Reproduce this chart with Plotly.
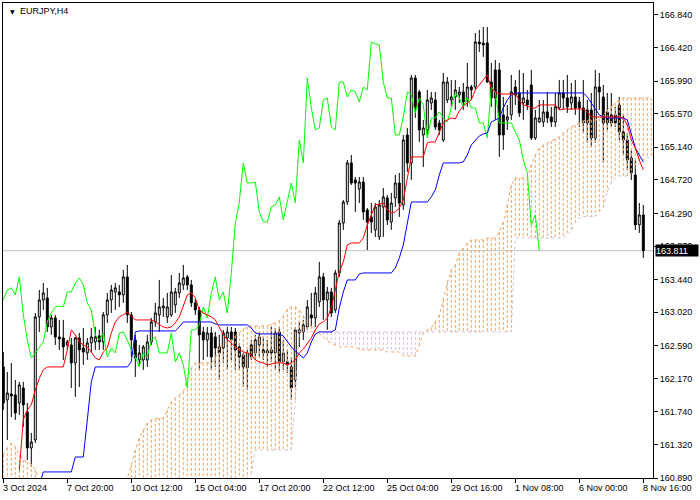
import plotly.graph_objects as go

# ---------------- data (EURJPY, H4) ----------------
opens = [162.317, 161.893, 161.970, 161.958, 161.855, 162.047, 161.739, 161.276, 161.379, 162.960,
         163.178, 163.204, 162.831, 162.947, 162.703, 162.690, 162.600, 162.600, 162.369, 162.690,
         162.561, 162.497, 162.626, 162.638, 162.716, 162.638, 162.986, 163.178, 163.281, 163.281,
         163.243, 163.474, 162.986, 162.664, 162.407, 162.407, 162.407, 162.638, 162.895, 162.986,
         163.075, 162.960, 162.986, 163.114, 163.268, 163.371, 163.474, 163.371, 163.140, 163.050,
         162.767, 162.664, 162.754, 162.703, 162.574, 162.561, 162.690, 162.767, 162.767, 162.574,
         162.472, 162.304, 162.600, 162.497, 162.600, 162.536, 162.523, 162.536, 162.497, 162.767,
         162.382, 162.382, 162.317, 162.150, 162.754, 162.767, 162.831, 162.986, 162.947, 163.153,
         163.474, 163.178, 163.281, 163.050, 163.525, 164.167, 164.437, 164.939, 164.720, 164.604,
         164.694, 164.335, 164.245, 164.078, 163.988, 164.373, 164.489, 164.180, 164.489, 164.681,
         164.399, 165.298, 164.939, 166.031, 165.851, 165.298, 165.363, 165.709, 165.748, 165.453,
         165.234, 165.748, 165.748, 165.787, 165.813, 165.851, 165.748, 165.915, 165.915, 166.493,
         166.480, 166.480, 165.979, 166.134, 166.134, 165.556, 165.491, 165.556, 165.915, 165.838,
         165.709, 165.748, 165.941, 165.260, 165.465, 165.465, 165.594, 165.530, 165.465, 165.645,
         165.838, 165.774, 165.709, 165.787, 165.722, 165.645, 165.620, 165.620, 165.260, 165.915,
         165.787, 165.594, 165.556, 165.556, 165.684, 165.337, 165.234, 165.003, 164.784, 164.142,
         164.270]
highs = [162.510, 162.253, 162.369, 162.150, 162.125, 162.125, 161.855, 161.469, 163.011, 163.307,
         163.397, 163.333, 162.986, 162.986, 162.921, 162.921, 162.664, 162.690, 162.703, 162.754,
         162.818, 162.690, 162.818, 162.831, 162.793, 163.024, 163.268, 163.371, 163.397, 163.371,
         163.564, 163.628, 163.024, 162.729, 162.600, 162.600, 162.729, 162.947, 163.140, 163.435,
         163.204, 163.268, 163.500, 163.333, 163.525, 163.628, 163.500, 163.435, 163.204, 163.088,
         162.831, 162.831, 162.831, 162.767, 162.729, 162.793, 162.831, 162.831, 162.818, 162.626,
         162.497, 162.536, 162.664, 162.729, 162.767, 162.703, 162.664, 162.831, 162.818, 162.831,
         162.664, 162.536, 162.446, 162.831, 162.895, 162.921, 163.178, 163.268, 163.345, 163.666,
         163.525, 163.345, 163.333, 163.564, 164.206, 164.463, 164.977, 165.041, 164.759, 164.759,
         164.759, 164.360, 164.424, 164.424, 164.463, 164.617, 164.527, 164.553, 164.784, 164.810,
         165.298, 165.388, 166.070, 166.070, 165.877, 165.491, 165.877, 165.851, 165.851, 165.491,
         166.095, 166.044, 166.005, 166.005, 165.915, 165.966, 166.223, 165.941, 166.609, 166.648,
         166.686, 166.686, 166.223, 166.262, 166.223, 165.787, 165.684, 166.070, 166.005, 166.134,
         166.095, 165.877, 166.134, 165.620, 165.748, 165.748, 165.851, 165.658, 165.838, 166.005,
         166.005, 166.070, 165.966, 166.005, 165.787, 166.005, 165.748, 165.838, 166.134, 166.095,
         165.941, 165.838, 165.838, 165.658, 165.787, 165.556, 165.324, 165.106, 164.977, 164.424,
         164.399]
lows = [161.765, 161.379, 161.675, 161.636, 161.701, 161.546, 161.122, 161.032, 161.340, 162.767,
        163.050, 162.767, 162.729, 162.600, 162.536, 162.407, 162.536, 162.047, 161.932, 162.060,
        162.343, 162.407, 162.497, 162.536, 162.536, 162.536, 162.883, 163.011, 163.050, 163.088,
        163.140, 162.883, 162.446, 162.189, 162.317, 162.279, 162.317, 162.600, 162.831, 162.767,
        162.960, 162.883, 162.960, 163.011, 163.204, 163.307, 163.307, 163.088, 162.986, 162.279,
        162.407, 162.446, 162.279, 162.317, 162.150, 162.369, 162.279, 162.407, 162.279, 162.279,
        162.060, 162.022, 162.407, 162.407, 162.446, 162.407, 162.317, 162.382, 162.279, 162.240,
        162.279, 162.240, 161.893, 162.060, 162.574, 162.664, 162.793, 162.831, 162.831, 163.088,
        162.921, 162.793, 162.960, 163.011, 163.474, 164.078, 164.399, 164.656, 164.309, 164.424,
        164.206, 163.820, 164.039, 163.988, 163.949, 163.988, 164.142, 164.078, 164.373, 164.245,
        164.335, 164.823, 164.720, 165.517, 165.208, 164.887, 165.298, 165.620, 165.363, 165.298,
        165.208, 165.709, 165.658, 165.620, 165.709, 165.620, 165.658, 165.748, 165.877, 166.365,
        166.301, 165.966, 165.658, 165.491, 165.016, 165.106, 165.363, 165.491, 165.684, 165.530,
        165.491, 165.620, 165.234, 165.234, 165.453, 165.401, 165.453, 165.401, 165.401, 165.620,
        165.620, 165.581, 165.620, 165.556, 165.401, 165.324, 165.196, 165.144, 165.196, 165.620,
        164.939, 165.363, 165.401, 165.401, 165.234, 165.041, 164.849, 164.720, 164.078, 164.039,
        163.718]
closes = [161.855, 161.983, 161.945, 161.726, 162.086, 161.829, 161.276, 161.353, 162.960, 163.178,
          163.268, 162.831, 162.947, 162.703, 162.677, 162.574, 162.638, 162.369, 162.690, 162.536,
          162.510, 162.626, 162.703, 162.703, 162.638, 162.986, 163.178, 163.307, 163.333, 163.243,
          163.474, 162.986, 162.664, 162.433, 162.497, 162.574, 162.638, 162.895, 163.011, 163.088,
          163.101, 163.088, 163.281, 163.281, 163.397, 163.461, 163.371, 163.140, 163.050, 162.729,
          162.664, 162.754, 162.446, 162.561, 162.497, 162.754, 162.767, 162.664, 162.536, 162.446,
          162.317, 162.497, 162.446, 162.664, 162.703, 162.497, 162.497, 162.497, 162.754, 162.382,
          162.497, 162.343, 162.047, 162.793, 162.793, 162.857, 163.088, 162.947, 163.268, 163.474,
          163.178, 163.281, 163.011, 163.525, 164.167, 164.437, 164.939, 164.681, 164.681, 164.694,
          164.309, 164.180, 164.180, 164.373, 164.399, 164.502, 164.206, 164.424, 164.681, 164.424,
          165.234, 164.939, 166.031, 165.645, 165.363, 165.388, 165.748, 165.774, 165.401, 165.363,
          165.979, 165.979, 165.787, 165.877, 165.851, 165.722, 165.915, 165.877, 166.493, 166.468,
          166.455, 165.979, 165.774, 165.774, 165.298, 165.298, 165.530, 165.851, 165.813, 165.581,
          165.774, 165.684, 165.260, 165.517, 165.517, 165.594, 165.517, 165.465, 165.658, 165.838,
          165.774, 165.658, 165.787, 165.645, 165.645, 165.453, 165.453, 165.260, 165.915, 165.851,
          165.453, 165.453, 165.453, 165.453, 165.337, 165.234, 164.977, 164.810, 164.142, 164.270,
          163.811]

# Ichimoku lines (one value per bar)
tenkan_first_bar = 4
tenkan = [160.990, 161.640, 161.765, 161.830, 162.020, 162.170, 162.280, 162.317, 162.317, 162.317,
          162.317, 162.317, 162.536, 162.793, 162.729, 162.640, 162.600, 162.574, 162.510, 162.433,
          162.407, 162.510, 162.561, 162.754, 162.895, 162.960, 162.986, 163.024, 162.973, 162.921,
          162.921, 162.921, 162.921, 162.921, 162.895, 162.857, 162.831, 162.818, 162.831, 162.883,
          162.960, 163.100, 163.243, 163.268, 163.204, 163.050, 163.011, 162.986, 162.960, 162.921,
          162.831, 162.729, 162.664, 162.626, 162.574, 162.536, 162.510, 162.497, 162.472, 162.407,
          162.382, 162.369, 162.343, 162.356, 162.369, 162.369, 162.369, 162.343, 162.369, 162.407,
          162.497, 162.548, 162.626, 162.690, 162.793, 162.870, 162.895, 162.947, 163.075, 163.307,
          163.538, 163.666, 163.885, 163.910, 163.910, 163.910, 163.975, 164.142, 164.270, 164.399,
          164.410, 164.424, 164.335, 164.296, 164.309, 164.360, 164.463, 164.720, 165.016, 165.016,
          165.016, 165.016, 165.196, 165.208, 165.208, 165.324, 165.453, 165.491, 165.517, 165.504,
          165.607, 165.671, 165.710, 165.748, 165.877, 165.941, 166.005, 166.070, 165.902, 165.851,
          165.825, 165.825, 165.825, 165.825, 165.825, 165.748, 165.684, 165.671, 165.645, 165.645,
          165.684, 165.684, 165.684, 165.684, 165.684, 165.620, 165.632, 165.632, 165.632, 165.632,
          165.632, 165.632, 165.594, 165.530, 165.530, 165.530, 165.530, 165.530, 165.530, 165.530,
          165.530, 165.517, 165.427, 165.234, 165.132, 164.977, 164.849]

kijun_first_bar = 9
kijun = [160.800, 160.968, 160.968, 160.968, 160.968, 160.968, 160.968, 160.968, 160.968, 161.160,
         161.160, 161.160, 161.636, 162.125, 162.317, 162.317, 162.317, 162.317, 162.317, 162.317,
         162.317, 162.317, 162.317, 162.382, 162.767, 162.780, 162.780, 162.780, 162.780, 162.780,
         162.780, 162.780, 162.780, 162.780, 162.780, 162.831, 162.895, 162.895, 162.895, 162.895,
         162.895, 162.895, 162.895, 162.895, 162.870, 162.857, 162.857, 162.857, 162.857, 162.857,
         162.857, 162.857, 162.857, 162.818, 162.754, 162.741, 162.741, 162.741, 162.741, 162.741,
         162.741, 162.716, 162.638, 162.574, 162.523, 162.484, 162.433, 162.497, 162.638, 162.741,
         162.767, 162.767, 162.767, 162.767, 162.793, 163.075, 163.281, 163.435, 163.435, 163.435,
         163.512, 163.525, 163.525, 163.525, 163.525, 163.525, 163.525, 163.525, 163.525, 163.589,
         163.718, 163.885, 164.142, 164.437, 164.437, 164.437, 164.437, 164.437, 164.502, 164.592,
         164.784, 164.939, 164.939, 164.939, 164.939, 164.939, 164.951, 165.041, 165.170, 165.234,
         165.285, 165.311, 165.324, 165.465, 165.491, 165.517, 165.645, 165.748, 165.812, 165.838,
         165.838, 165.838, 165.838, 165.838, 165.838, 165.838, 165.838, 165.838, 165.838, 165.838,
         165.838, 165.838, 165.838, 165.838, 165.838, 165.838, 165.838, 165.787, 165.709, 165.620,
         165.555, 165.530, 165.517, 165.517, 165.517, 165.517, 165.517, 165.491, 165.298, 165.132,
         165.041, 164.951]

span_a = [161.187, 161.277, 161.340, 161.290, 161.187, 161.122, 161.097, 161.070, 160.994, 160.865,
          160.800, 160.750, 160.750, 160.750, 160.750, 160.750, 160.750, 160.750, 160.750, 160.750,
          160.750, 160.750, 160.750, 160.750, 160.750, 160.750, 160.750, 160.750, 160.750, 160.750,
          160.800, 160.890, 161.058, 161.251, 161.405, 161.508, 161.598, 161.636, 161.650, 161.662,
          161.662, 161.765, 161.868, 161.919, 161.958, 161.996, 162.170, 162.304, 162.369, 162.369,
          162.369, 162.369, 162.369, 162.433, 162.574, 162.613, 162.638, 162.664, 162.716, 162.754,
          162.806, 162.831, 162.844, 162.844, 162.844, 162.844, 162.844, 162.870, 162.883, 162.908,
          162.973, 163.062, 163.088, 163.088, 163.050, 162.973, 162.895, 162.844, 162.793, 162.741,
          162.690, 162.651, 162.626, 162.600, 162.574, 162.574, 162.574, 162.574, 162.574, 162.536,
          162.536, 162.536, 162.536, 162.536, 162.536, 162.536, 162.510, 162.510, 162.510, 162.510,
          162.458, 162.458, 162.458, 162.458, 162.600, 162.754, 162.793, 162.818, 162.895, 162.986,
          163.178, 163.397, 163.564, 163.628, 163.782, 163.846, 163.910, 163.949, 163.949, 163.949,
          163.949, 163.975, 163.975, 163.975, 164.052, 164.180, 164.399, 164.656, 164.746, 164.746,
          164.746, 164.746, 164.913, 165.041, 165.132, 165.170, 165.196, 165.221, 165.247, 165.273,
          165.324, 165.363, 165.401, 165.427, 165.453, 165.479, 165.491, 165.491, 165.491, 165.504,
          165.555, 165.620, 165.671, 165.709, 165.748, 165.774, 165.774, 165.774, 165.774, 165.774,
          165.774, 165.774, 165.774]
span_b = [160.600, 160.600, 160.600, 160.600, 160.600, 160.600, 160.600, 160.600, 160.600, 160.600,
          160.600, 160.600, 160.600, 160.600, 160.600, 160.600, 160.600, 160.600, 160.600, 160.600,
          160.600, 160.600, 160.600, 160.600, 160.600, 160.600, 160.600, 160.600, 160.600, 160.600,
          160.600, 160.600, 160.600, 160.600, 160.600, 160.600, 160.600, 160.600, 160.600, 160.600,
          160.600, 160.600, 160.600, 160.600, 160.600, 160.600, 160.600, 160.600, 160.600, 160.600,
          160.600, 160.600, 160.600, 160.600, 160.600, 160.600, 160.600, 160.600, 160.600, 160.600,
          160.600, 160.600, 160.950, 161.250, 161.250, 161.250, 161.250, 161.250, 161.250, 161.250,
          161.250, 161.250, 161.250, 161.893, 162.767, 162.767, 162.767, 162.767, 162.767, 162.767,
          162.767, 162.767, 162.767, 162.767, 162.767, 162.767, 162.767, 162.767, 162.767, 162.767,
          162.767, 162.767, 162.767, 162.767, 162.767, 162.767, 162.767, 162.767, 162.767, 162.767,
          162.767, 162.767, 162.767, 162.767, 162.767, 162.767, 162.767, 162.767, 162.767, 162.767,
          162.767, 162.767, 162.767, 162.767, 162.767, 162.767, 162.767, 162.767, 162.767, 162.767,
          162.767, 162.767, 162.767, 162.767, 162.767, 162.767, 162.767, 162.767, 163.975, 163.975,
          163.975, 163.975, 163.975, 163.975, 163.975, 163.975, 163.975, 163.975, 163.975, 163.975,
          163.975, 164.013, 164.078, 164.180, 164.232, 164.250, 164.250, 164.250, 164.250, 164.309,
          164.360, 164.566, 164.694, 164.746, 164.772, 164.772, 164.772, 164.810, 164.874, 164.939,
          164.977, 165.003, 165.003]

chikou_shift = 26

x_tick_bars = [0, 16, 32, 48, 64, 80, 96, 112, 128, 144, 160]
x_tick_labels = ["3 Oct 2024", "7 Oct 20:00", "10 Oct 12:00", "15 Oct 04:00", "17 Oct 20:00",
                 "22 Oct 12:00", "25 Oct 04:00", "29 Oct 16:00", "1 Nov 08:00", "6 Nov 00:00",
                 "8 Nov 16:00"]
y_tick_labels = ["166.840", "166.420", "165.990", "165.570", "165.140", "164.720", "164.290",
                 "163.870", "163.440", "163.020", "162.590", "162.170", "161.740", "161.320",
                 "160.890"]
symbol_title = "EURJPY,H4"

FONT = "Liberation Sans, Arial, sans-serif"

# ---------------- figure ----------------
bars = list(range(len(closes)))
fig = go.Figure()

# Kumo drawn MT4-style: a dotted vertical column per bar between span A and span B
up_x, up_y, dn_x, dn_y = [], [], [], []
for i, (a, b) in enumerate(zip(span_a, span_b)):
    if a >= b:
        up_x += [i, i, None]
        up_y += [a, b, None]
    else:
        dn_x += [i, i, None]
        dn_y += [b, a, None]
fig.add_trace(go.Scatter(x=up_x, y=up_y, mode="lines", hoverinfo="skip",
                         line=dict(color="#F4A460", width=1, dash="3px,2px")))
fig.add_trace(go.Scatter(x=dn_x, y=dn_y, mode="lines", hoverinfo="skip",
                         line=dict(color="#D8BFD8", width=1, dash="3px,2px")))
span_x = list(range(len(span_a)))
fig.add_trace(go.Scatter(x=span_x, y=span_a, mode="lines", hoverinfo="skip",
                         line=dict(color="#F4A460", width=1, dash="dot")))
fig.add_trace(go.Scatter(x=span_x, y=span_b, mode="lines", hoverinfo="skip",
                         line=dict(color="#D8BFD8", width=1, dash="dot")))

fig.add_trace(go.Candlestick(
    x=bars, open=opens, high=highs, low=lows, close=closes,
    increasing=dict(line=dict(color="black", width=1), fillcolor="white"),
    decreasing=dict(line=dict(color="black", width=1), fillcolor="black"),
    whiskerwidth=0, hoverinfo="skip"))

fig.add_trace(go.Scatter(x=list(range(len(closes) - chikou_shift)), y=closes[chikou_shift:],
                         mode="lines", line=dict(color="#00FF00", width=1), hoverinfo="skip"))
fig.add_trace(go.Scatter(x=list(range(kijun_first_bar, kijun_first_bar + len(kijun))), y=kijun,
                         mode="lines", line=dict(color="#0000FF", width=1), hoverinfo="skip"))
fig.add_trace(go.Scatter(x=list(range(tenkan_first_bar, tenkan_first_bar + len(tenkan))), y=tenkan,
                         mode="lines", line=dict(color="#FF0000", width=1), hoverinfo="skip"))

last_price = closes[-1]
fig.add_shape(type="line", xref="paper", x0=0, x1=1, y0=last_price, y1=last_price,
              line=dict(color="#C0C0C0", width=1), layer="below")

# date labels, MT4 style: text starts just right of its tick
for b, lab in zip(x_tick_bars, x_tick_labels):
    fig.add_annotation(x=b, y=0, xref="x", yref="paper", text=lab, showarrow=False,
                       xanchor="left", yanchor="top", xshift=-2, yshift=-3,
                       font=dict(family=FONT, size=9, color="black"))

# current price tag
fig.add_annotation(x=1, y=last_price, xref="paper", yref="y", text=f"{last_price:.3f}",
                   showarrow=False, xanchor="left", yanchor="middle", xshift=2,
                   bgcolor="black", font=dict(family=FONT, size=9, color="white"),
                   width=42, height=11, align="left", borderpad=0)

# symbol title
fig.add_annotation(x=0, y=1, xref="paper", yref="paper", text="\u25BC", showarrow=False,
                   xanchor="left", yanchor="top", xshift=5, yshift=-3,
                   font=dict(family="DejaVu Sans", size=6, color="black"))
fig.add_annotation(x=0, y=1, xref="paper", yref="paper", text=symbol_title, showarrow=False,
                   xanchor="left", yanchor="top", xshift=15, yshift=-1,
                   font=dict(family=FONT, size=9, color="black"))

fig.update_layout(
    width=700, height=500,
    margin=dict(l=3, r=47, t=3, b=22),
    paper_bgcolor="white", plot_bgcolor="white",
    showlegend=False,
    xaxis=dict(range=[-0.075, 162.425], showgrid=False, zeroline=False,
               showline=True, linecolor="black", linewidth=1, mirror=True,
               ticks="outside", ticklen=4, tickcolor="black", tickvals=x_tick_bars,
               showticklabels=False, rangeslider=dict(visible=False)),
    yaxis=dict(range=[160.890, 166.994], side="right", showgrid=False, zeroline=False,
               showline=True, linecolor="black", linewidth=1, mirror=True,
               ticks="outside", ticklen=4, tickcolor="black",
               tickvals=[float(t) for t in y_tick_labels], ticktext=y_tick_labels,
               tickfont=dict(family=FONT, size=9, color="black")),
)

fig.write_html("out.html", config={"displayModeBar": False},
               post_script="document.body.style.margin='0px';")
